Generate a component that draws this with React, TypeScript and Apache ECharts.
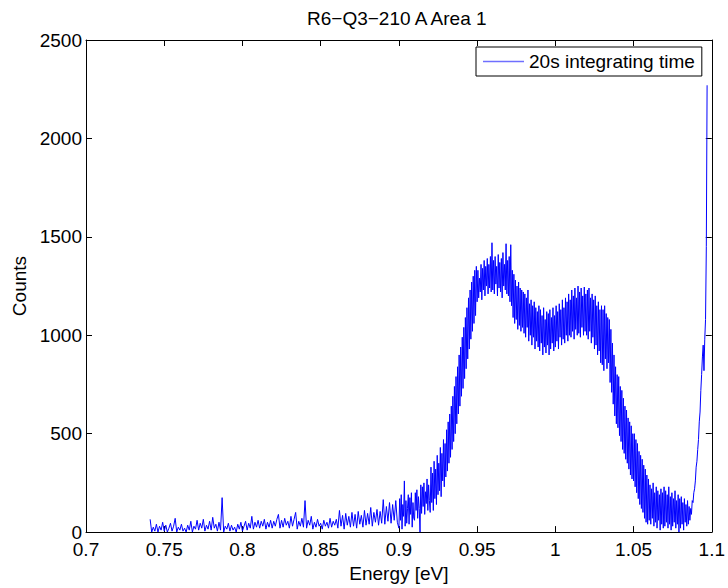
import React, { useEffect, useRef } from "react";
import * as echarts from "echarts";

const titleText = "R6\u2212Q3\u2212210 A Area 1";
const seriesName = "20s integrating time";
const xAxisName = "Energy [eV]";
const yAxisName = "Counts";

const xMin = 0.7;
const xMax = 1.1;
const xStep = 0.05;
const yMin = 0;
const yMax = 2500;
const yStep = 500;

// low-energy tail: one reading per 1 meV from 0.741 eV to 0.899 eV
const tailStart = 0.741;
const tailStep = 0.001;
const tailCounts = [
  65, 0, 25, 5, 40, 0, 30, 10, 50, 5,
  35, 0, 20, 45, 5, 30, 70, 0, 25, 10,
  40, 5, 20, 0, 35, 10, 55, 0, 30, 15,
  60, 10, 45, 20, 65, 5, 35, 15, 55, 10,
  75, 20, 40, 5, 50, 10, 175, 0, 30, 15,
  45, 5, 35, 10, 25, 0, 40, 15, 50, 5,
  30, 55, 10, 45, 20, 80, 15, 50, 25, 60,
  20, 55, 30, 65, 15, 50, 25, 60, 20, 55,
  30, 65, 90, 20, 60, 25, 70, 35, 55, 20,
  80, 30, 65, 100, 15, 55, 30, 70, 25, 160,
  20, 60, 35, 80, 15, 50, 25, 65, 30, 45,
  15, 60, 30, 50, 20, 70, 25, 55, 35, 65,
  20, 110, 30, 85, 15, 95, 35, 80, 25, 100,
  30, 90, 20, 105, 40, 85, 25, 110, 35, 95,
  40, 125, 30, 100, 50, 115, 35, 105, 45, 165,
  40, 130, 55, 150, 45, 140, 60, 160, 50,
];

// main emission band: one reading per 0.5 meV from 0.900 eV to 1.097 eV
const bandStart = 0.9;
const bandStep = 0.0005;
const bandCounts = [
  20, 170, 60, 190, 15, 140, 80, 260, 30, 160, 45, 120, 190, 40, 175, 90, 200, 25, 150, 70,
  60, 200, 110, 215, 70, 180, 120, 0, 240, 95, 230, 130, 250, 90, 205, 145, 270, 110, 240, 160,
  100, 330, 150, 300, 110, 360, 170, 320, 140, 390, 190, 350, 210, 430, 180, 400, 260, 470, 230, 450,
  280, 520, 310, 560, 350, 600, 380, 640, 420, 690, 460, 740, 500, 790, 550, 840, 600, 900, 640, 940,
  690, 990, 730, 1040, 780, 1090, 830, 1140, 880, 1190, 930, 1230, 980, 1270, 1020, 1300, 1060, 1330, 1100, 1350,
  1170, 1330, 1190, 1290, 1220, 1360, 1180, 1340, 1230, 1380, 1200, 1350, 1250, 1390, 1210, 1360, 1240, 1400, 1220, 1470,
  1230, 1380, 1210, 1400, 1260, 1350, 1200, 1410, 1240, 1370, 1220, 1390, 1190, 1420, 1250, 1360, 1230, 1465, 1210, 1380,
  1200, 1400, 1170, 1460, 1150, 1330, 1090, 1310, 1060, 1280, 1080, 1250, 1030, 1270, 1050, 1240, 1020, 1230, 1040, 1220,
  1010, 1210, 990, 1190, 1040, 1230, 970, 1160, 1000, 1180, 950, 1150, 990, 1170, 930, 1140, 970, 1120, 940, 1150,
  920, 1130, 960, 1100, 900, 1140, 940, 1080, 910, 1120, 950, 1110, 900, 1130, 930, 1090, 960, 1140, 920, 1100,
  940, 1150, 970, 1120, 930, 1160, 990, 1130, 950, 1180, 980, 1140, 960, 1190, 1000, 1170, 970, 1210, 1000, 1180,
  990, 1230, 1020, 1200, 980, 1240, 1030, 1190, 1000, 1250, 1010, 1220, 990, 1240, 1040, 1200, 1000, 1245, 1020, 1210,
  1000, 1230, 980, 1240, 1020, 1190, 960, 1210, 990, 1180, 930, 1200, 950, 1150, 900, 1170, 920, 1130, 860, 1150,
  850, 1130, 820, 1150, 880, 1110, 830, 1090, 860, 1080, 760, 1030, 710, 960, 650, 900, 590, 840, 550, 800,
  530, 790, 490, 740, 460, 720, 420, 680, 400, 640, 370, 620, 350, 580, 320, 560, 290, 540, 270, 500,
  260, 500, 230, 470, 200, 450, 170, 410, 140, 390, 120, 370, 100, 340, 70, 320, 50, 290, 40, 270,
  60, 240, 40, 220, 70, 250, 30, 200, 50, 230, 20, 210, 60, 190, 10, 220, 40, 200, 20, 230,
  30, 210, 50, 190, 20, 230, 40, 180, 10, 200, 30, 170, 50, 210, 20, 160, 40, 190, 0, 170,
  20, 180, 40, 150, 10, 170, 50, 140, 30, 160, 40, 130, 60, 120, 90, 160, 150, 200, 220, 260,
  330, 360, 420, 470, 560, 610, 720, 800, 890, 950, 820, 980, 1080, 1450, 2270,
];

const fontFamily = "'Liberation Sans', Arial, Helvetica, sans-serif";

export default function App() {
  const ref = useRef<HTMLDivElement>(null);
  useEffect(() => {
    if (!ref.current) return;
    const chart = echarts.init(ref.current, null, { renderer: "svg" });
    const data = [
      ...tailCounts.map((c, i) => [+(tailStart + i * tailStep).toFixed(4), c]),
      ...bandCounts.map((c, i) => [+(bandStart + i * bandStep).toFixed(4), c]),
    ];
    const axisLine = { show: true, onZero: false, lineStyle: { color: "#000", width: 1 } };
    const axisTick = { show: true, inside: true, length: 6, lineStyle: { color: "#000", width: 1 } };
    const labelStyle = { color: "#000", fontSize: 19, fontFamily };
    const fmtX = (v: number) => String(+v.toFixed(2));
    const fmtY = (v: number) => String(Math.round(v));
    chart.setOption({
      animation: false,
      backgroundColor: "#fff",
      title: {
        text: titleText,
        left: 307,
        top: 9,
        padding: 0,
        textStyle: { color: "#000", fontSize: 19, fontWeight: "normal", fontFamily },
      },
      legend: {
        left: 476,
        top: 47,
        padding: [4, 7, 4, 7],
        borderColor: "#000",
        borderWidth: 1,
        backgroundColor: "#fff",
        icon: "rect",
        itemWidth: 41,
        itemHeight: 1.5,
        selectedMode: false,
        textStyle: { color: "#000", fontSize: 19, fontFamily, lineHeight: 21 },
        data: [{ name: seriesName, itemStyle: { color: "#6f6fff" } }],
      },
      grid: { left: 86, right: 15, top: 40, bottom: 53 },
      xAxis: [
        {
          type: "value",
          min: xMin,
          max: xMax,
          interval: xStep,
          position: "bottom",
          axisLine,
          axisTick,
          splitLine: { show: false },
          axisLabel: { ...labelStyle, margin: 8, formatter: fmtX },
          name: xAxisName,
          nameLocation: "middle",
          nameGap: 29,
          nameTextStyle: labelStyle,
        },
        {
          type: "value",
          min: xMin,
          max: xMax,
          interval: xStep,
          position: "top",
          axisLine,
          axisTick,
          splitLine: { show: false },
          axisLabel: { show: false },
        },
      ],
      yAxis: [
        {
          type: "value",
          min: yMin,
          max: yMax,
          interval: yStep,
          position: "left",
          axisLine,
          axisTick,
          splitLine: { show: false },
          axisLabel: { ...labelStyle, margin: 4, formatter: fmtY },
          name: yAxisName,
          nameLocation: "middle",
          nameGap: 54,
          nameTextStyle: labelStyle,
        },
        {
          type: "value",
          min: yMin,
          max: yMax,
          interval: yStep,
          position: "right",
          axisLine,
          axisTick,
          splitLine: { show: false },
          axisLabel: { show: false },
        },
      ],
      series: [
        {
          name: seriesName,
          type: "line",
          xAxisIndex: 0,
          yAxisIndex: 0,
          data,
          symbol: "none",
          showSymbol: false,
          lineStyle: { color: "#0000ff", width: 1, join: "bevel" },
          itemStyle: { color: "#0000ff" },
          emphasis: { disabled: true },
        },
      ],
    });
    return () => chart.dispose();
  }, []);
  return (
    <div
      ref={ref}
      style={{ position: "fixed", left: 0, top: 0, width: 728, height: 588, background: "#fff" }}
    />
  );
}
